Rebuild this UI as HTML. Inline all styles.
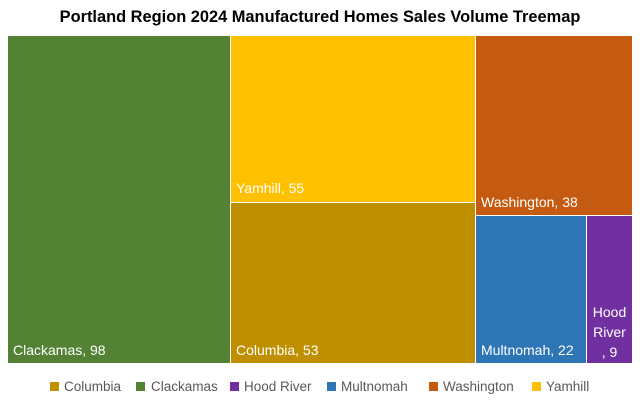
<!DOCTYPE html>
<html><head><meta charset="utf-8"><style>
body{margin:0;width:640px;height:411px;background:#fff;position:relative;overflow:hidden;font-family:"Liberation Sans",sans-serif}
.r{position:absolute;box-sizing:border-box}
.t{position:absolute;color:#fff;font-size:14px;white-space:nowrap;line-height:16px}
.lg{position:absolute;top:379px;font-size:13.5px;color:#595959;line-height:16px}
.sq{position:absolute;top:382px;width:9px;height:9px}
</style></head><body>
<div style="position:absolute;left:0;width:640px;top:8px;text-align:center;font-weight:bold;font-size:16.4px;color:#000">Portland Region 2024 Manufactured Homes Sales Volume Treemap</div>
<div class="r" style="left:8px;top:36px;width:222px;height:327px;background:#548235"></div>
<div class="r" style="left:231px;top:36px;width:244px;height:166px;background:#FFC000"></div>
<div class="r" style="left:231px;top:203px;width:244px;height:160px;background:#BF8F00"></div>
<div class="r" style="left:476px;top:36px;width:156px;height:179px;background:#C55A11"></div>
<div class="r" style="left:476px;top:216px;width:110px;height:147px;background:#2E75B6"></div>
<div class="r" style="left:587px;top:216px;width:45px;height:147px;background:#7030A0"></div>
<div class="t" style="left:13px;top:342px">Clackamas, 98</div>
<div class="t" style="left:236px;top:180px">Yamhill, 55</div>
<div class="t" style="left:236px;top:342px">Columbia, 53</div>
<div class="t" style="left:481px;top:194px">Washington, 38</div>
<div class="t" style="left:481px;top:342px">Multnomah, 22</div>
<div class="t" style="left:587px;width:45px;text-align:center;top:302px;line-height:20px;white-space:normal">Hood<br>River<br>, 9</div>
<div class="sq" style="left:50px;background:#BF8F00"></div><div class="lg" style="left:64px">Columbia</div>
<div class="sq" style="left:136px;background:#548235"></div><div class="lg" style="left:151px">Clackamas</div>
<div class="sq" style="left:230px;background:#7030A0"></div><div class="lg" style="left:244px">Hood River</div>
<div class="sq" style="left:327px;background:#2E75B6"></div><div class="lg" style="left:341px">Multnomah</div>
<div class="sq" style="left:429px;background:#C55A11"></div><div class="lg" style="left:443px">Washington</div>
<div class="sq" style="left:532px;background:#FFC000"></div><div class="lg" style="left:546px">Yamhill</div>
</body></html>
